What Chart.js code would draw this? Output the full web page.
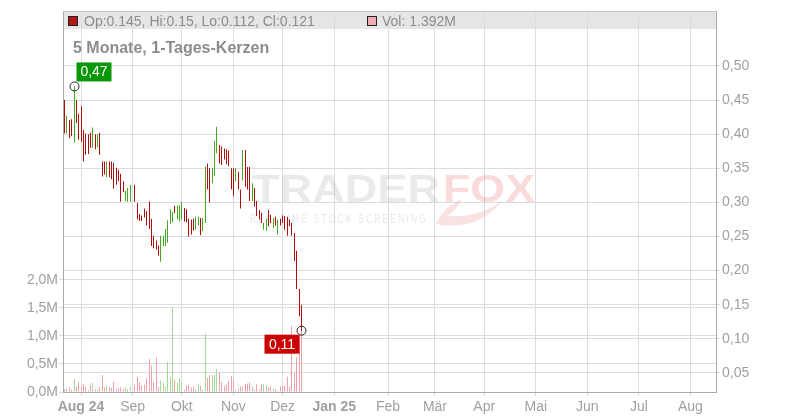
<!DOCTYPE html>
<html>
<head>
<meta charset="utf-8">
<script src="https://cdn.jsdelivr.net/npm/chart.js@4.4.1/dist/chart.umd.min.js"></script>
<style>
html,body{margin:0;padding:0;background:#fff;}
canvas{display:block;}
</style>
</head>
<body>
<canvas id="chart" width="800" height="420"></canvas>
<script>
// trading day index, 0 = 1 Aug 2024
const days = [
    -7,-6,-5,-4,-3,-2,-1,0,1,2,
    3,4,5,6,7,8,9,10,11,12,
    13,14,15,16,17,18,19,20,21,23,
    24,25,26,27,28,29,30,31,32,33,
    34,35,36,37,38,39,40,41,42,43,
    44,45,46,47,48,49,50,51,52,53,
    54,55,56,57,58,59,60,61,62,63,
    64,65,66,67,68,69,70,71,72,73,
    74,75,76,77,78,79,80,81,82,83,
    84,85,86,87,88,89,90,91,92,93,
    94
];

const openPrices = [
    0.445,0.404,0.418,0.420,0.395,0.448,0.428,0.436,0.404,0.399,
    0.398,0.400,0.383,0.398,0.383,0.400,0.358,0.358,0.339,0.358,
    0.357,0.355,0.349,0.346,0.340,0.329,0.304,0.303,0.303,0.324,
    0.297,0.282,0.280,0.290,0.285,0.298,0.274,0.250,0.243,0.236,
    0.216,0.237,0.238,0.244,0.270,0.272,0.294,0.277,0.274,0.277,
    0.290,0.289,0.274,0.273,0.274,0.262,0.267,0.275,0.260,0.272,
    0.355,0.347,0.330,0.341,0.376,0.382,0.380,0.378,0.376,0.374,
    0.348,0.347,0.333,0.343,0.317,0.334,0.374,0.350,0.349,0.304,
    0.319,0.300,0.288,0.284,0.261,0.260,0.287,0.281,0.264,0.278,
    0.255,0.275,0.280,0.279,0.277,0.274,0.269,0.252,0.226,0.170,
    0.145
];

const highPrices = [
    0.450,0.427,0.421,0.422,0.470,0.450,0.430,0.441,0.406,0.401,
    0.400,0.402,0.410,0.400,0.400,0.402,0.360,0.360,0.360,0.360,
    0.360,0.358,0.351,0.348,0.342,0.331,0.317,0.321,0.326,0.326,
    0.299,0.283,0.281,0.291,0.287,0.301,0.276,0.251,0.244,0.237,
    0.251,0.251,0.261,0.274,0.290,0.286,0.295,0.295,0.296,0.301,
    0.292,0.290,0.276,0.275,0.276,0.279,0.279,0.277,0.277,0.353,
    0.357,0.350,0.351,0.390,0.411,0.384,0.382,0.379,0.378,0.376,
    0.350,0.350,0.350,0.345,0.319,0.377,0.377,0.352,0.352,0.328,
    0.321,0.302,0.289,0.285,0.270,0.276,0.289,0.282,0.277,0.279,
    0.275,0.276,0.281,0.280,0.279,0.275,0.270,0.255,0.229,0.173,
    0.15
];

const lowPrices = [
    0.401,0.401,0.394,0.397,0.388,0.416,0.392,0.389,0.360,0.370,
    0.371,0.380,0.380,0.378,0.381,0.370,0.338,0.341,0.337,0.337,
    0.334,0.320,0.326,0.331,0.301,0.315,0.302,0.301,0.301,0.301,
    0.275,0.273,0.273,0.278,0.266,0.261,0.236,0.233,0.231,0.222,
    0.213,0.236,0.236,0.241,0.268,0.271,0.284,0.275,0.272,0.275,
    0.272,0.271,0.250,0.253,0.259,0.260,0.266,0.252,0.258,0.270,
    0.319,0.300,0.328,0.339,0.372,0.357,0.355,0.363,0.356,0.353,
    0.319,0.309,0.331,0.319,0.291,0.332,0.323,0.319,0.302,0.302,
    0.294,0.280,0.275,0.270,0.260,0.258,0.265,0.270,0.263,0.266,
    0.253,0.266,0.270,0.260,0.251,0.265,0.251,0.214,0.173,0.133,
    0.112
];

const closePrices = [
    0.405,0.424,0.397,0.400,0.450,0.418,0.395,0.392,0.362,0.372,
    0.374,0.382,0.408,0.380,0.398,0.372,0.340,0.343,0.358,0.339,
    0.336,0.323,0.328,0.333,0.303,0.317,0.315,0.319,0.324,0.303,
    0.277,0.274,0.274,0.279,0.268,0.263,0.238,0.235,0.232,0.224,
    0.249,0.250,0.259,0.272,0.288,0.284,0.285,0.293,0.294,0.299,
    0.274,0.273,0.252,0.255,0.261,0.277,0.277,0.254,0.275,0.345,
    0.321,0.303,0.349,0.386,0.395,0.359,0.357,0.364,0.358,0.355,
    0.321,0.312,0.348,0.321,0.293,0.373,0.326,0.321,0.305,0.326,
    0.296,0.282,0.276,0.271,0.269,0.274,0.267,0.271,0.276,0.267,
    0.273,0.267,0.271,0.262,0.253,0.266,0.253,0.217,0.176,0.136,
    0.121
];

// volume in millions
const volumes = [
    0.05,0.06,0.08,0.04,0.23,0.09,0.18,0.10,0.14,0.09,
    0.03,0.13,0.16,0.05,0.05,0.09,0.30,0.08,0.11,0.09,
    0.07,0.18,0.05,0.07,0.08,0.05,0.09,0.05,0.09,0.14,
    0.27,0.18,0.11,0.13,0.24,0.59,0.47,0.18,0.61,0.09,
    0.20,0.16,0.09,0.54,0.27,1.51,0.22,0.16,0.25,0.16,
    0.04,0.11,0.13,0.08,0.10,0.05,0.14,0.11,0.05,1.04,
    0.25,0.30,0.30,0.31,0.41,0.36,0.18,0.10,0.13,0.20,
    0.29,0.21,0.04,0.06,0.10,0.10,0.14,0.15,0.17,0.10,
    0.04,0.14,0.05,0.14,0.14,0.12,0.08,0.10,0.05,0.05,
    0.02,0.10,0.10,0.11,0.27,0.10,1.18,0.34,0.62,0.95,
    1.392
];

const xTickValues = [0,22,43,65,86,108,131,151,172,194,216,238,260];
const xTickLabels = ["Aug 24","Sep","Okt","Nov","Dez","Jan 25","Feb","Mär","Apr","Mai","Jun","Jul","Aug"];
const priceTicks = [0.05,0.10,0.15,0.20,0.25,0.30,0.35,0.40,0.45,0.50];
const volumeTicks = [0,0.5,1.0,1.5,2.0];

const titleText = "5 Monate, 1-Tages-Kerzen";

const RED = "#b30d0d";
const GREEN = "#45a825";
const PINK = "#f0a0a8";
const LIGHTGREEN = "#a4da96";
const FONT = "'Liberation Sans', Arial, sans-serif";

Chart.defaults.font.family = FONT;
Chart.defaults.color = "#999";

function isUp(i){
    return closePrices[i] >= openPrices[i];
}

const wickData = days.map((d,i)=>({x:d, y:[lowPrices[i], highPrices[i]]}));
const bodyData = days.map((d,i)=>({x:d, y:[openPrices[i], closePrices[i]]}));
const volumeData = days.map((d,i)=>({x:d, y:volumes[i]}));

function fmtComma(v, digits){
    return v.toFixed(digits).replace(".", ",");
}

// snap the 1px bars onto pixel columns so they stay crisp
const snapPlugin = {
    id:"snap",
    afterDatasetsUpdate(chart){
        chart.data.datasets.forEach((ds,i)=>{
            chart.getDatasetMeta(i).data.forEach(el=>{
                el.x = Math.round(el.x - 0.5) + 0.5;
            });
        });
    }
};

const decorPlugin = {
    id:"decor",

    beforeDraw(chart){
        const ctx = chart.ctx;
        const a = chart.chartArea;
        ctx.save();
        ctx.fillStyle = "#e6e6e6";
        ctx.fillRect(a.left, a.top, a.right - a.left, 18);
        ctx.restore();
    },

    beforeDatasetsDraw(chart){
        // watermark
        const ctx = chart.ctx;
        ctx.save();
        ctx.font = "bold 38px " + FONT;
        ctx.textBaseline = "alphabetic";

        let w = ctx.measureText("TRADER").width;
        ctx.save();
        ctx.translate(252, 202);
        ctx.scale(188 / w, 1);
        ctx.fillStyle = "rgba(150,150,150,0.2)";
        ctx.fillText("TRADER", 0, 0);
        ctx.restore();

        w = ctx.measureText("FOX").width;
        ctx.save();
        ctx.translate(443, 202);
        ctx.scale(92 / w, 1);
        ctx.fillStyle = "rgba(235,110,110,0.25)";
        ctx.fillText("FOX", 0, 0);
        ctx.restore();

        // tail
        ctx.fillStyle = "rgba(235,110,110,0.2)";
        ctx.beginPath();
        ctx.moveTo(436, 224);
        ctx.quadraticCurveTo(478, 232, 503, 200);
        ctx.quadraticCurveTo(480, 218, 448, 216);
        ctx.quadraticCurveTo(458, 208, 462, 199);
        ctx.quadraticCurveTo(442, 208, 436, 224);
        ctx.fill();

        ctx.font = "12px " + FONT;
        ctx.letterSpacing = "3px";
        w = ctx.measureText("REALTIME STOCK SCREENING").width;
        ctx.translate(250, 223);
        ctx.scale(178 / w, 1);
        ctx.fillStyle = "rgba(150,150,150,0.22)";
        ctx.fillText("REALTIME STOCK SCREENING", 0, 0);
        ctx.restore();
    },

    afterDatasetsDraw(chart){
        const ctx = chart.ctx;
        const xs = chart.scales.x;
        const ys = chart.scales.yp;

        let hiIdx = 0;
        let loIdx = 0;
        highPrices.forEach((h,i)=>{ if(h > highPrices[hiIdx]) hiIdx = i; });
        lowPrices.forEach((l,i)=>{ if(l < lowPrices[loIdx]) loIdx = i; });

        ctx.save();
        ctx.font = "14px " + FONT;
        ctx.textAlign = "center";
        ctx.textBaseline = "middle";

        // high marker
        let cx = Math.round(xs.getPixelForValue(days[hiIdx]) - 0.5) + 0.5;
        let cy = ys.getPixelForValue(highPrices[hiIdx]);
        ctx.fillStyle = "#0a980a";
        ctx.fillRect(cx + 2, cy - 24, 35, 19);
        ctx.fillStyle = "#fff";
        ctx.fillText(fmtComma(highPrices[hiIdx], 2), cx + 19.5, cy - 14);
        ctx.strokeStyle = "#222";
        ctx.lineWidth = 1;
        ctx.beginPath();
        ctx.arc(cx, cy, 4.5, 0, Math.PI * 2);
        ctx.stroke();

        // low marker
        cx = Math.round(xs.getPixelForValue(days[loIdx]) - 0.5) + 0.5;
        cy = ys.getPixelForValue(lowPrices[loIdx]);
        ctx.fillStyle = "#cc0000";
        ctx.fillRect(cx - 37, cy + 4, 35, 19);
        ctx.fillStyle = "#fff";
        ctx.fillText(fmtComma(lowPrices[loIdx], 2), cx - 19.5, cy + 14);
        ctx.beginPath();
        ctx.arc(cx, cy, 4.5, 0, Math.PI * 2);
        ctx.stroke();
        ctx.restore();
    },

    afterDraw(chart){
        const ctx = chart.ctx;
        const a = chart.chartArea;
        const last = days.length - 1;

        ctx.save();
        ctx.strokeStyle = "#c4c4c4";
        ctx.lineWidth = 1;
        ctx.beginPath();
        ctx.moveTo(a.left, a.top + 0.5);
        ctx.lineTo(a.right, a.top + 0.5);
        ctx.stroke();

        // legend squares
        ctx.fillStyle = "#b01818";
        ctx.fillRect(68.5, 16.5, 9, 9);
        ctx.strokeStyle = "#222";
        ctx.strokeRect(68.5, 16.5, 9, 9);
        ctx.fillStyle = "#f0aab2";
        ctx.fillRect(367.5, 16.5, 9, 9);
        ctx.strokeRect(367.5, 16.5, 9, 9);

        ctx.font = "14px " + FONT;
        ctx.fillStyle = "#8c8c8c";
        ctx.textBaseline = "alphabetic";
        ctx.fillText(
            `Op:${openPrices[last]}, Hi:${highPrices[last]}, Lo:${lowPrices[last]}, Cl:${closePrices[last]}`,
            84, 26
        );
        ctx.fillText(`Vol: ${volumes[last]}M`, 382, 26);

        ctx.font = "bold 16px " + FONT;
        ctx.fillText(titleText, 73, 53);
        ctx.restore();
    }
};

new Chart(document.getElementById("chart"), {
    type:"bar",
    data:{
        datasets:[
        {
            data:bodyData,
            yAxisID:"yp",
            barThickness:1,
            inflateAmount:0,
            grouped:false,
            order:1,
            backgroundColor:ctx=>isUp(ctx.dataIndex) ? GREEN : RED
        },
        {
            data:wickData,
            yAxisID:"yp",
            barThickness:1,
            inflateAmount:0,
            grouped:false,
            order:2,
            backgroundColor:ctx=>isUp(ctx.dataIndex) ? GREEN : RED
        },
        {
            data:volumeData,
            yAxisID:"yv",
            barThickness:1,
            inflateAmount:0,
            grouped:false,
            order:3,
            backgroundColor:ctx=>isUp(ctx.dataIndex) ? LIGHTGREEN : PINK
        }
        ]
    },
    options:{
        responsive:false,
        animation:false,
        devicePixelRatio:1,
        layout:{padding:{top:11, left:0, right:0, bottom:0}},
        plugins:{
            legend:{display:false},
            tooltip:{enabled:false}
        },
        scales:{
            x:{
                type:"linear",
                min:-7.7,
                max:270.9,
                offset:false,
                grid:{color:"#dcdcdc", tickLength:4, offset:false},
                border:{color:"#aaa"},
                afterBuildTicks:scale=>{
                    scale.ticks = xTickValues.map(v=>({value:v}));
                },
                afterFit:scale=>{ scale.height = 28; },
                ticks:{
                    padding:3,
                    color:"#a0a0a0",
                    maxRotation:0,
                    autoSkip:false,
                    font:ctx=>({
                        size:14,
                        family:FONT,
                        weight:/\d/.test(xTickLabels[ctx.index] || "") ? "bold" : "normal"
                    }),
                    callback:(value,index)=>xTickLabels[index]
                }
            },
            yp:{
                type:"linear",
                position:"right",
                min:0.0221,
                max:0.5806,
                grid:{color:"#dcdcdc", tickLength:4},
                border:{color:"#aaa"},
                afterBuildTicks:scale=>{
                    scale.ticks = priceTicks.map(v=>({value:v}));
                },
                afterFit:scale=>{ scale.width = 84; },
                ticks:{
                    padding:2,
                    color:"#a0a0a0",
                    font:{size:14},
                    callback:v=>fmtComma(v, 2)
                }
            },
            yv:{
                type:"linear",
                position:"left",
                min:0,
                max:6.8,
                grid:{color:"#dcdcdc", tickLength:4},
                border:{color:"#aaa"},
                afterBuildTicks:scale=>{
                    scale.ticks = volumeTicks.map(v=>({value:v}));
                },
                afterFit:scale=>{ scale.width = 63; },
                ticks:{
                    padding:1,
                    color:"#a0a0a0",
                    font:{size:14},
                    callback:v=>fmtComma(v, 1) + "M"
                }
            }
        }
    },
    plugins:[snapPlugin, decorPlugin]
});
</script>
</body>
</html>
